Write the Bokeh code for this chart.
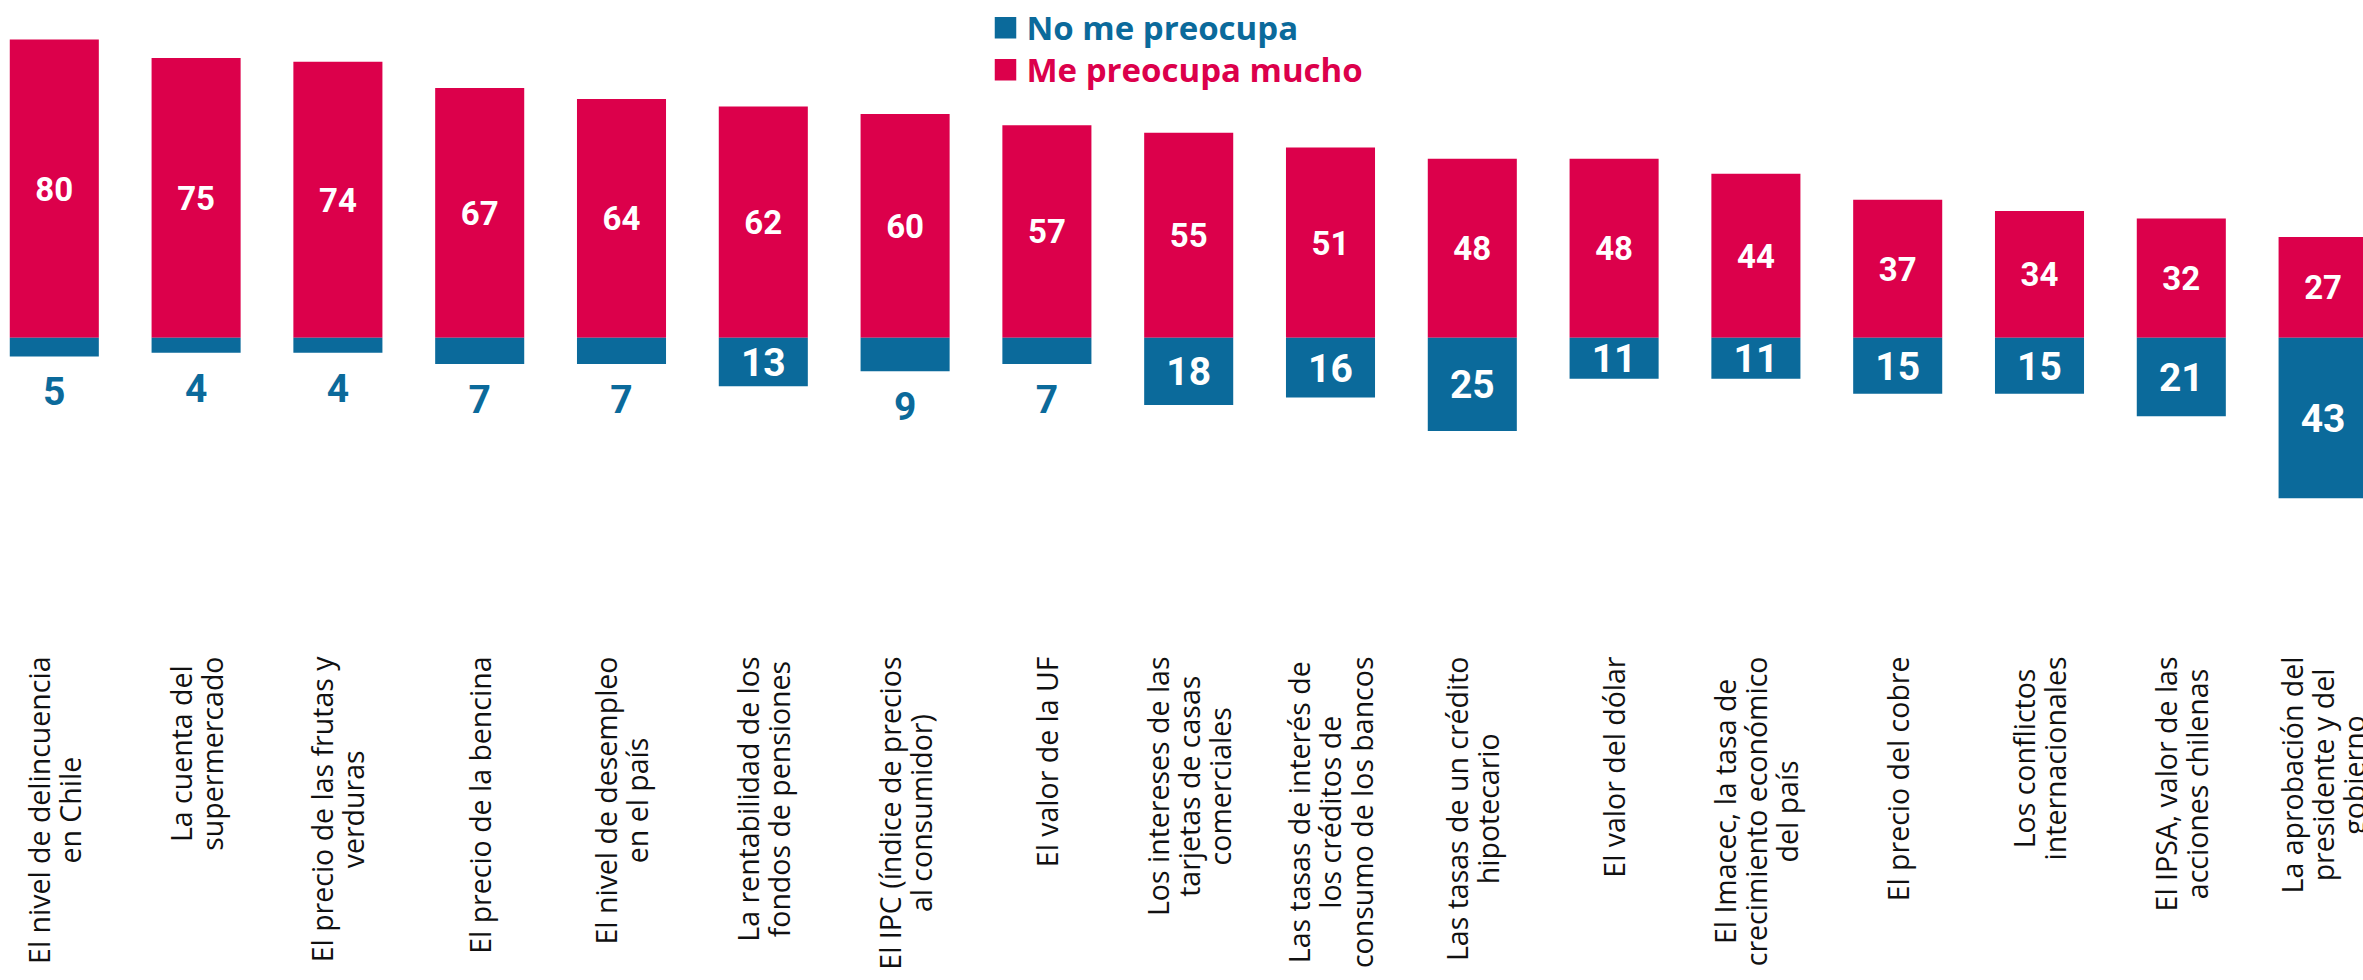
import math
from bokeh.plotting import figure
from bokeh.models import Range1d, ColumnDataSource
from bokeh.core.properties import value
from bokeh.embed import file_html
from bokeh.resources import INLINE

# ---------------- data ----------------
categories = [
    "El nivel de delincuencia\nen Chile",
    "La cuenta del\nsupermercado",
    "El precio de las frutas y\nverduras",
    "El precio de la bencina",
    "El nivel de desempleo\nen el país",
    "La rentabilidad de los\nfondos de pensiones",
    "El IPC (índice de precios\nal consumidor)",
    "El valor de la UF",
    "Los intereses de las\ntarjetas de casas\ncomerciales",
    "Las tasas de interés de\nlos créditos de\nconsumo de los bancos",
    "Las tasas de un crédito\nhipotecario",
    "El valor del dólar",
    "El Imacec, la tasa de\ncrecimiento económico\ndel país",
    "El precio del cobre",
    "Los conflictos\ninternacionales",
    "El IPSA, valor de las\nacciones chilenas",
    "La aprobación del\npresidente y del\ngobierno",
]
me_preocupa_mucho = [80, 75, 74, 67, 64, 62, 60, 57, 55, 51, 48, 48, 44, 37, 34, 32, 27]
no_me_preocupa = [5, 4, 4, 7, 7, 13, 9, 7, 18, 16, 25, 11, 11, 15, 15, 21, 43]
series_names = ["No me preocupa", "Me preocupa mucho"]

# ---------------- style / layout ----------------
RED = "#dc004b"
BLUE = "#0b6a9b"
W, H = 2363, 980
PX_X = 141.8      # px per category
PX_Y = 3.73       # px per percentage point
X0 = 53.8         # px from figure left to first category centre
Y0 = 337.3        # px from figure top to the zero line

x_start = -X0 / PX_X
x_end = x_start + W / PX_X
y_end = Y0 / PX_Y
y_start = y_end - H / PX_Y


def dx(px):
    return x_start + px / PX_X


def dy(py):
    return y_end - py / PX_Y


p = figure(width=W, height=H,
           x_range=Range1d(x_start, x_end), y_range=Range1d(y_start, y_end),
           x_axis_type=None, y_axis_type=None,
           output_backend="svg", toolbar_location=None, min_border=0)
p.grid.visible = False
p.outline_line_color = None
p.background_fill_color = "white"
p.border_fill_color = "white"

idx = list(range(len(categories)))
neg_blue = [-v for v in no_me_preocupa]
src = ColumnDataSource(dict(
    x=idx, red=me_preocupa_mucho, blue=neg_blue,
    red_mid=[v / 2 for v in me_preocupa_mucho],
    red_txt=[str(v) for v in me_preocupa_mucho],
))

p.vbar(x="x", bottom=0, top="red", width=0.628, source=src,
       fill_color=RED, line_color=None)
p.vbar(x="x", bottom="blue", top=0, width=0.628, source=src,
       fill_color=BLUE, line_color=None)

# values inside red bars
p.text(x="x", y="red_mid", text="red_txt", source=src,
       text_color="white", text_font=value("Roboto"), text_font_style="bold",
       text_font_size="33px", text_align="center", text_baseline="middle")

# values for blue bars
in_x, in_y, in_t, out_x, out_y, out_t = [], [], [], [], [], []
for i, v in zip(idx, no_me_preocupa):
    if v >= 10:
        in_x.append(i); in_y.append(-v / 2); in_t.append(str(v))
    else:
        out_x.append(i); out_y.append(-v - 35 / PX_Y); out_t.append(str(v))

p.text(x=in_x, y=in_y, text=in_t, text_color="white", text_font=value("Roboto"),
       text_font_style="bold", text_font_size="39px",
       text_align="center", text_baseline="middle")
p.text(x=out_x, y=out_y, text=out_t, text_color=BLUE, text_font=value("Roboto"),
       text_font_style="bold", text_font_size="39px",
       text_align="center", text_baseline="middle")

# category labels (vertical, lines centred, block hanging from a common top)
p.text(x=idx, y=[dy(656)] * len(idx), text=categories, angle=math.pi / 2,
       anchor="center_right", text_align="center", text_baseline="middle",
       text_font=value("Open Sans"), text_font_size="28.5px",
       text_line_height=0.82, text_color="#111111")

# legend
leg_colors = [BLUE, RED]
leg_rows = [27.2, 69.2]
p.scatter(x=[dx(1005)] * 2, y=[dy(r) for r in leg_rows], marker="square",
          size=21.5, fill_color=leg_colors, line_color=None)
p.text(x=[dx(1026)] * 2, y=[dy(r) for r in leg_rows], text=series_names,
       text_color=leg_colors, text_font=value("Open Sans"), text_font_style="bold",
       text_font_size="33px", text_align="left", text_baseline="middle")

open("out.html", "w").write(file_html(p, INLINE))
